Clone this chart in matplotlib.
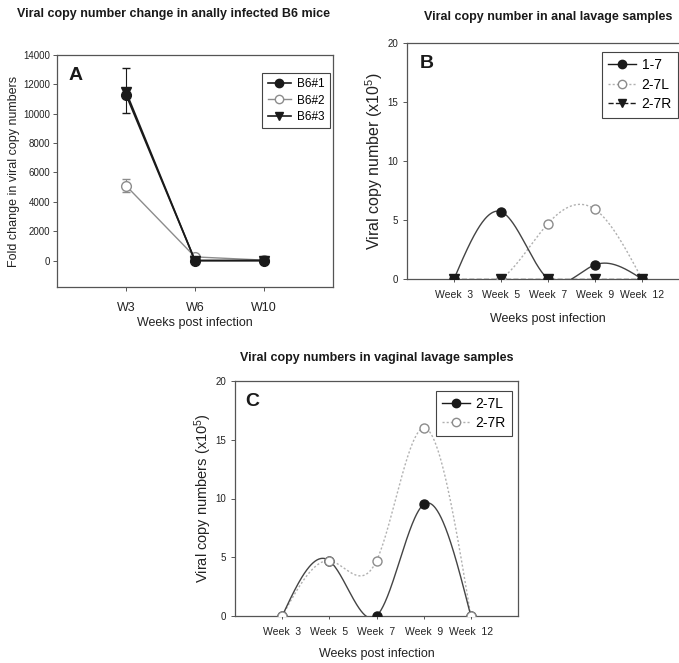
import numpy as np
import matplotlib
matplotlib.use("Agg")
import matplotlib.pyplot as plt
from matplotlib.lines import Line2D

plt.rcParams['font.family'] = ['Liberation Sans', 'DejaVu Sans']
plt.rcParams['mathtext.fontset'] = 'custom'
plt.rcParams['mathtext.rm'] = 'Liberation Sans'
plt.rcParams['mathtext.it'] = 'Liberation Sans'

# ---------------- data ----------------
# Panel A
a_weeks = ["W3", "W6", "W10"]
a_b61 = [11300, 0, 0]
a_b61_err_lo = [1250, 0, 0]
a_b61_err_hi = [1800, 0, 0]
a_b62 = [5100, 250, 30]
a_b62_err = [450, 0, 0]
a_b63 = [11500, 0, 0]
a_yticks = [0, 2000, 4000, 6000, 8000, 10000, 12000, 14000]

# Panel B
b_weeks = ["Week  3", "Week  5", "Week  7", "Week  9", "Week  12"]
b_17 = [0, 5.7, 0, 1.2, 0]
b_27L = [0, 0, 4.7, 5.9, 0]
b_27R = [0, 0, 0, 0, 0]

# Panel C
c_weeks = ["Week  3", "Week  5", "Week  7", "Week  9", "Week  12"]
c_27L = [0, 4.7, 0, 9.5, 0]
c_27R = [0, 4.7, 4.7, 16.0, 0]

yticks_bc = [0, 5, 10, 15, 20]


def natural_spline(x, y, n=300):
    x = np.asarray(x, float)
    y = np.asarray(y, float)
    k = len(x)
    h = np.diff(x)
    A = np.zeros((k, k))
    r = np.zeros(k)
    A[0, 0] = 1
    A[-1, -1] = 1
    for i in range(1, k - 1):
        A[i, i - 1] = h[i - 1]
        A[i, i] = 2 * (h[i - 1] + h[i])
        A[i, i + 1] = h[i]
        r[i] = 6 * ((y[i + 1] - y[i]) / h[i] - (y[i] - y[i - 1]) / h[i - 1])
    M = np.linalg.solve(A, r)
    xs = np.linspace(x[0], x[-1], n)
    ys = np.empty_like(xs)
    for j, t in enumerate(xs):
        i = min(np.searchsorted(x, t, side='right') - 1, k - 2)
        dx1 = x[i + 1] - t
        dx0 = t - x[i]
        ys[j] = (M[i] * dx1 ** 3 / (6 * h[i]) + M[i + 1] * dx0 ** 3 / (6 * h[i])
                 + (y[i] / h[i] - M[i] * h[i] / 6) * dx1
                 + (y[i + 1] / h[i] - M[i + 1] * h[i] / 6) * dx0)
    return xs, ys


W, H = 679, 663
fig = plt.figure(figsize=(W / 100, H / 100), dpi=100)


def ax_px(left, top, right, bottom):
    return fig.add_axes([left / W, 1 - bottom / H, (right - left) / W, (bottom - top) / H])


BLACK = '#1a1a1a'
GRAY = '#8c8c8c'
LGRAY = '#b0b0b0'
TXT = '#222222'

# ---------------- Panel A ----------------
axA = ax_px(57, 55, 333, 287)
xa = np.arange(1, len(a_weeks) + 1)
axA.errorbar(xa, a_b61, yerr=[a_b61_err_lo, a_b61_err_hi], color=BLACK, lw=1.2,
             marker='o', ms=7, mfc=BLACK, mec=BLACK, capsize=3, elinewidth=0.8,
             label='B6#1', zorder=4)
axA.errorbar(xa, a_b62, yerr=a_b62_err, color=GRAY, lw=1.0,
             marker='o', ms=7, mfc='white', mec=GRAY, capsize=3, elinewidth=0.8,
             ecolor=GRAY, label='B6#2', zorder=3)
axA.plot(xa, a_b63, color=BLACK, lw=1.2, marker='v', ms=7, mfc=BLACK, mec=BLACK,
         label='B6#3', zorder=5)
axA.set_xlim(0, 4)
axA.set_ylim(-1800, 14000)
axA.set_xticks(xa)
axA.set_xticklabels(a_weeks, fontsize=9, color=TXT)
axA.set_yticks(a_yticks)
axA.set_yticklabels([str(v) for v in a_yticks], fontsize=7, color=TXT)
axA.tick_params(length=3, width=0.7, colors='#555555', labelcolor=TXT, pad=2)
axA.tick_params(axis='x', pad=8)
for s in axA.spines.values():
    s.set_color('#555555')
    s.set_linewidth(0.9)
axA.set_ylabel('Fold change in viral copy numbers', fontsize=9, color=TXT)
axA.yaxis.set_label_coords(-0.135, 0.5)
axA.set_xlabel('Weeks post infection', fontsize=9, color=TXT, labelpad=2)
axA.text(0.04, 0.95, 'A', transform=axA.transAxes, fontsize=14, fontweight='bold',
         va='top', ha='left', color=BLACK)
handlesA = [
    Line2D([], [], color=BLACK, lw=1.2, marker='o', ms=6, mfc=BLACK, mec=BLACK),
    Line2D([], [], color=GRAY, lw=1.0, marker='o', ms=6, mfc='white', mec=GRAY),
    Line2D([], [], color=BLACK, lw=1.2, marker='v', ms=6, mfc=BLACK, mec=BLACK),
]
legA = axA.legend(handlesA, ['B6#1', 'B6#2', 'B6#3'], loc='upper right',
                  bbox_to_anchor=(0.989, 0.922), borderaxespad=0, fontsize=8.5,
                  fancybox=False, edgecolor='#444444', framealpha=1,
                  handlelength=2.0, borderpad=0.45, labelspacing=0.35,
                  handletextpad=0.5)
legA.get_frame().set_linewidth(0.8)
fig.text(174 / W, 1 - 14 / H, 'Viral copy number change in anally infected B6 mice',
         ha='center', va='center', fontsize=9, fontweight='bold', color=BLACK)


def lavage_axes(ax):
    ax.set_ylim(0, 20)
    ax.set_xlim(0, 6)
    ax.set_yticks(yticks_bc)
    ax.set_yticklabels([str(v) for v in yticks_bc], fontsize=7, color=TXT)
    ax.tick_params(length=3, width=0.7, colors='#555555', labelcolor=TXT)
    ax.tick_params(axis='x', length=2, pad=6)
    for s in ax.spines.values():
        s.set_color('#555555')
        s.set_linewidth(0.9)


# ---------------- Panel B ----------------
axB = ax_px(407, 43, 689, 279)
xb = np.arange(1, len(b_weeks) + 1)
sx, sy = natural_spline(xb, b_27L)
axB.plot(sx, sy, color=LGRAY, lw=1.0, ls=(0, (1.5, 1.5)), zorder=2)
axB.plot(xb, b_27L, ls='none', marker='o', ms=6.5, mfc='white', mec=GRAY, zorder=3)
sx, sy = natural_spline(xb, b_17)
axB.plot(sx, sy, color='#444444', lw=1.0, zorder=4)
axB.plot(xb, b_17, ls='none', marker='o', ms=6.5, mfc=BLACK, mec=BLACK, zorder=5)
axB.plot(xb, b_27R, color=BLACK, lw=1.0, ls='--', marker='v', ms=6.5, mfc=BLACK,
         mec=BLACK, zorder=6)
lavage_axes(axB)
axB.spines['right'].set_visible(False)
axB.set_xticks(xb)
axB.set_xticklabels(b_weeks, fontsize=7.5, color=TXT)
axB.set_ylabel('Viral copy number (x10$^5$)', fontsize=11.5, color=TXT)
axB.yaxis.set_label_coords(-0.078, 0.5)
axB.set_xlabel('Weeks post infection', fontsize=9, color=TXT, labelpad=9)
axB.text(0.045, 0.95, 'B', transform=axB.transAxes, fontsize=14, fontweight='bold',
         va='top', ha='left', color=BLACK)
handlesB = [
    Line2D([], [], color=BLACK, lw=1.0, marker='o', ms=6, mfc=BLACK, mec=BLACK),
    Line2D([], [], color=LGRAY, lw=1.0, ls=(0, (1.5, 1.5)), marker='o', ms=6,
           mfc='white', mec=GRAY),
    Line2D([], [], color=BLACK, lw=1.0, ls='--', marker='v', ms=6, mfc=BLACK, mec=BLACK),
]
legB = axB.legend(handlesB, ['1-7', '2-7L', '2-7R'], loc='upper right',
                  bbox_to_anchor=(0.961, 0.962), borderaxespad=0, fontsize=10,
                  fancybox=False, edgecolor='#444444', framealpha=1,
                  handlelength=2.0, borderpad=0.45, labelspacing=0.4,
                  handletextpad=0.4)
legB.get_frame().set_linewidth(0.8)
fig.text(548 / W, 1 - 17 / H, 'Viral copy number in anal lavage samples',
         ha='center', va='center', fontsize=9, fontweight='bold', color=BLACK)

# ---------------- Panel C ----------------
axC = ax_px(235, 381, 518, 616)
xc = np.arange(1, len(c_weeks) + 1)
sx, sy = natural_spline(xc, c_27R)
axC.plot(sx, sy, color=LGRAY, lw=1.0, ls=(0, (1.5, 1.5)), zorder=2)
sx, sy = natural_spline(xc, c_27L)
axC.plot(sx, sy, color='#444444', lw=1.0, zorder=3)
axC.plot(xc, c_27L, ls='none', marker='o', ms=6.5, mfc=BLACK, mec=BLACK, zorder=4)
axC.plot(xc, c_27R, ls='none', marker='o', ms=6.5, mfc='white', mec=GRAY, zorder=5)
lavage_axes(axC)
axC.set_xticks(xc)
axC.set_xticklabels(c_weeks, fontsize=7.5, color=TXT)
axC.set_ylabel('Viral copy numbers (x10$^5$)', fontsize=10.5, color=TXT)
axC.yaxis.set_label_coords(-0.074, 0.5)
axC.set_xlabel('Weeks post infection', fontsize=9, color=TXT, labelpad=8)
axC.text(0.035, 0.95, 'C', transform=axC.transAxes, fontsize=14, fontweight='bold',
         va='top', ha='left', color=BLACK)
handlesC = [
    Line2D([], [], color=BLACK, lw=1.0, marker='o', ms=6, mfc=BLACK, mec=BLACK),
    Line2D([], [], color=LGRAY, lw=1.0, ls=(0, (1.5, 1.5)), marker='o', ms=6,
           mfc='white', mec=GRAY),
]
legC = axC.legend(handlesC, ['2-7L', '2-7R'], loc='upper right',
                  bbox_to_anchor=(0.979, 0.957), borderaxespad=0, fontsize=10,
                  fancybox=False, edgecolor='#444444', framealpha=1,
                  handlelength=2.0, borderpad=0.45, labelspacing=0.35,
                  handletextpad=0.4)
legC.get_frame().set_linewidth(0.8)
fig.text(377 / W, 1 - 358 / H, 'Viral copy numbers in vaginal lavage samples',
         ha='center', va='center', fontsize=9, fontweight='bold', color=BLACK)

fig.savefig('out.png', dpi=100)
